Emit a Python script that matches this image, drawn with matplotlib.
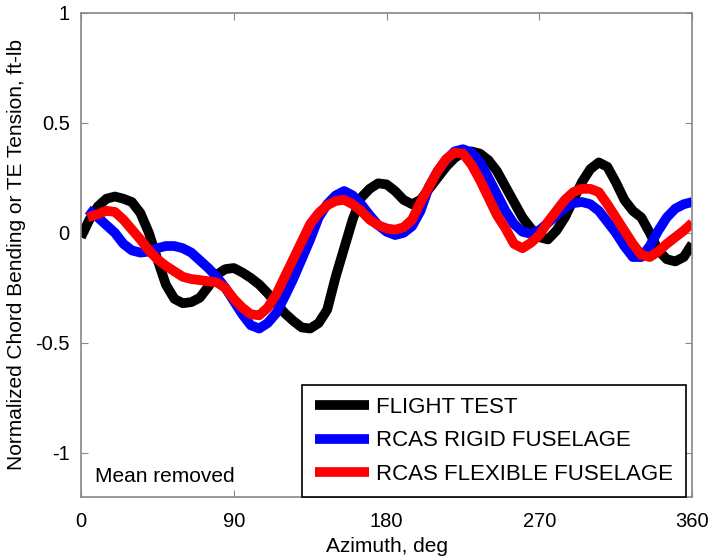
import numpy as np
import matplotlib
matplotlib.use('Agg')
import matplotlib.pyplot as plt
from matplotlib.ticker import FuncFormatter

plt.rcParams['font.family'] = ['Liberation Sans', 'DejaVu Sans']
plt.rcParams['axes.unicode_minus'] = False

# azimuth grids, deg
az_flight = [0, 5, 10, 15, 20, 25, 30, 35, 40, 45, 50, 55, 60, 65, 70, 75, 80, 85,
             90, 95, 100, 105, 110, 115, 120, 125, 130, 135, 140, 145, 150, 155, 160,
             165, 170, 175, 180, 185, 190, 195, 200, 205, 210, 215, 220, 225, 230,
             235, 240, 245, 250, 255, 260, 265, 270, 275, 280, 285, 290, 295, 300,
             305, 310, 315, 320, 325, 330, 335, 340, 345, 350, 355, 360]
az_rcas = [4] + az_flight[2:]

# flight test
flight = [-0.02, 0.06, 0.12, 0.155, 0.165, 0.155, 0.14, 0.09, 0.0, -0.12, -0.235,
          -0.30, -0.32, -0.315, -0.295, -0.245, -0.19, -0.165, -0.16, -0.18, -0.205,
          -0.235, -0.275, -0.32, -0.365, -0.40, -0.43, -0.435, -0.41, -0.35, -0.20,
          -0.07, 0.06, 0.16, 0.20, 0.225, 0.22, 0.19, 0.15, 0.13, 0.15, 0.20, 0.25,
          0.30, 0.34, 0.365, 0.37, 0.36, 0.33, 0.28, 0.21, 0.14, 0.07, 0.02, -0.02,
          -0.03, 0.01, 0.07, 0.15, 0.23, 0.29, 0.32, 0.30, 0.23, 0.15, 0.10, 0.07,
          0.0, -0.08, -0.12, -0.13, -0.11, -0.05]

# RCAS rigid fuselage
rigid = [0.105, 0.07, 0.035, 0.0, -0.05, -0.08, -0.09, -0.085, -0.07, -0.06, -0.06,
         -0.07, -0.09, -0.125, -0.16, -0.20, -0.25, -0.31, -0.37, -0.42, -0.435,
         -0.41, -0.365, -0.29, -0.21, -0.12, -0.03, 0.07, 0.13, 0.17, 0.19, 0.17,
         0.13, 0.08, 0.035, 0.005, -0.01, 0.0, 0.03, 0.10, 0.21, 0.28, 0.33, 0.37,
         0.38, 0.365, 0.32, 0.25, 0.175, 0.10, 0.04, 0.005, -0.005, 0.012, 0.045,
         0.08, 0.115, 0.135, 0.14, 0.13, 0.10, 0.05, 0.0, -0.06, -0.11, -0.11,
         -0.06, 0.01, 0.07, 0.11, 0.13, 0.14]

# RCAS flexible fuselage
flexible = [0.07, 0.085, 0.10, 0.095, 0.06, 0.015, -0.03, -0.08, -0.12, -0.15,
            -0.175, -0.20, -0.21, -0.215, -0.22, -0.225, -0.25, -0.30, -0.34, -0.37,
            -0.375, -0.34, -0.28, -0.20, -0.12, -0.04, 0.04, 0.09, 0.125, 0.145,
            0.15, 0.13, 0.10, 0.06, 0.035, 0.02, 0.014, 0.025, 0.06, 0.14, 0.21,
            0.28, 0.335, 0.365, 0.36, 0.31, 0.24, 0.16, 0.08, 0.02, -0.05, -0.07,
            -0.045, -0.01, 0.05, 0.10, 0.15, 0.185, 0.20, 0.20, 0.185, 0.13, 0.07,
            0.01, -0.05, -0.10, -0.11, -0.085, -0.05, -0.02, 0.01, 0.045]

labels = ['FLIGHT TEST', 'RCAS RIGID FUSELAGE', 'RCAS FLEXIBLE FUSELAGE']
xticks = [0, 90, 180, 270, 360]
yticks = [-1, -0.5, 0, 0.5, 1]

fig = plt.figure(figsize=(7.10, 5.57), dpi=100)
ax = fig.add_axes([0.114, 0.108, 0.861, 0.869])

style = dict(lw=7, solid_capstyle='butt', solid_joinstyle='round')
ax.plot(az_flight, flight, color='black', label=labels[0], **style)
ax.plot(az_rcas, rigid, color='blue', label=labels[1], **style)
ax.plot(az_rcas, flexible, color='red', label=labels[2], **style)

ax.set_xlim(0, 360)
ax.set_ylim(-1.2, 1)
ax.set_xticks(xticks)
ax.set_yticks(yticks)
ax.yaxis.set_major_formatter(FuncFormatter(lambda v, p: '%g' % v))

for s in ax.spines.values():
    s.set_color('#888888')
    s.set_linewidth(1.2)
ax.tick_params(direction='in', length=5, color='#888888', labelsize=14.5,
               top=True, right=True, pad=8)
ax.tick_params(axis='x', pad=11)

ax.set_xlabel('Azimuth, deg', fontsize=15, labelpad=4)
ax.set_ylabel('Normalized Chord Bending or TE Tension, ft-lb', fontsize=15, labelpad=7)

ax.text(0.023, 0.03, 'Mean removed', transform=ax.transAxes, fontsize=15)

leg = ax.legend(loc='lower right', bbox_to_anchor=(0.989, 0.0), borderaxespad=0,
                fontsize=16, fancybox=False, framealpha=1, edgecolor='black',
                handlelength=2.45, handletextpad=0.33, labelspacing=0.55,
                borderpad=0.55)
leg.get_frame().set_linewidth(1.2)

fig.savefig('out.png', dpi=100)
